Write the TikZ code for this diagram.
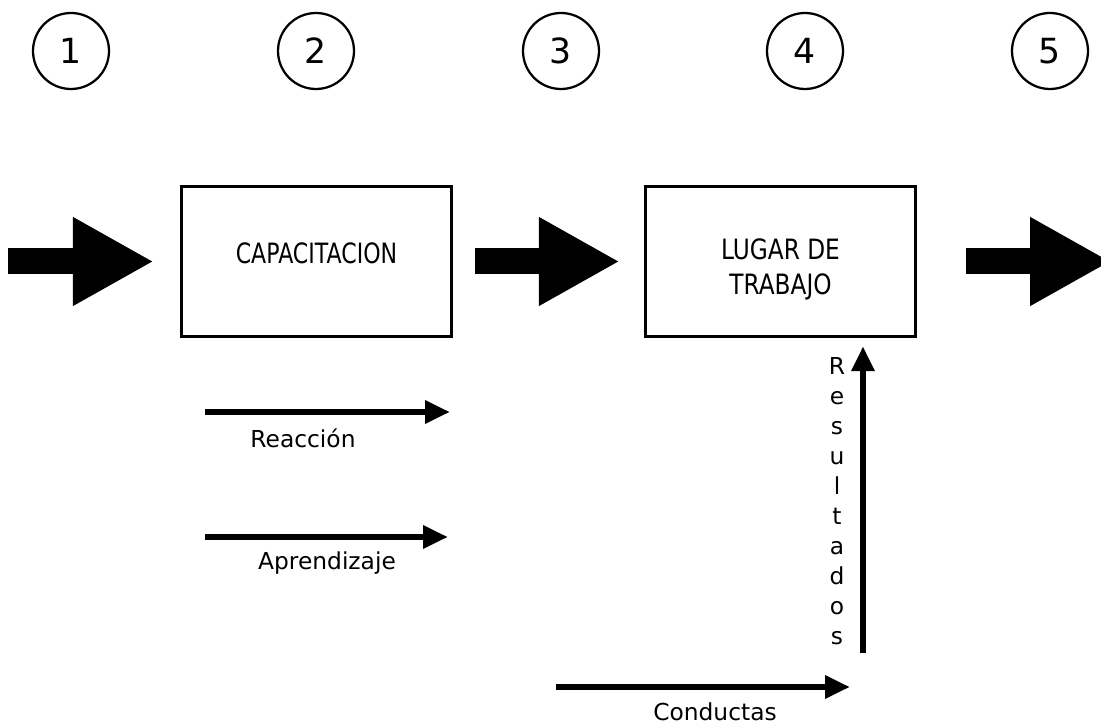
\documentclass[tikz,border=0pt]{standalone}
\usepackage{fontspec}
\setmainfont{DejaVu Sans}
\newfontfamily\boxfont[FakeStretch=0.83]{DejaVu Sans}
\usetikzlibrary{arrows.meta}

\begin{document}
\begin{tikzpicture}[x=0.75pt,y=-0.75pt]

	\tikzset{num/.style={draw, circle, line width=1.7pt, minimum size=57pt, inner sep=0pt, font=\fontsize{26}{26}\selectfont}}
	\tikzset{caja/.style={draw, line width=2.1pt, minimum width=203pt, minimum height=113pt}}
	\tikzset{cajatexto/.style={align=center, font=\boxfont\fontsize{21}{26}\selectfont}}
	\tikzset{big arrow/.style={line width=19.5pt, -{Triangle[length=60.75pt,width=62.25pt]}}}
	\tikzset{thin arrow/.style={line width=5.2pt, -{Triangle[length=18.75pt,width=16.5pt]}}}
	\tikzset{etiqueta/.style={font=\fontsize{17.5}{22.5}\selectfont}}

	\useasboundingbox (0,0) rectangle (1101,727);

	\node[num] (n1) at (71,51) {1};
	\node[num] (n2) at (316,51) {2};
	\node[num] (n3) at (561,51) {3};
	\node[num] (n4) at (805,51) {4};
	\node[num] (n5) at (1050,51) {5};

	\node[caja] (cap) at (316.5,261.5) {};
	\node[cajatexto] (captxt) at ([yshift=6.5pt]cap.center) {\scalebox{0.95}[1]{CAPACITACION}};
	\node[caja] (lugar) at (780.5,261.5) {};
	\node[cajatexto] (lugartxt) at ([yshift=-6pt]lugar.center) {LUGAR DE\\TRABAJO};

	\coordinate (entrada) at (8,261.5);
	\coordinate (salida) at (1111,261.5);
	\draw[big arrow, shorten >=19.5pt] (entrada) -- (cap);
	\draw[big arrow, shorten <=16.5pt, shorten >=18pt] (cap) -- (lugar);
	\draw[big arrow, shorten <=36.75pt] (lugar) -- (salida);

	\coordinate (r1) at (205,412);
	\coordinate (r2) at (450,412);
	\draw[thin arrow] (r1) -- (r2);
	\node[etiqueta] (reac) at (303,438) {Reacción};

	\coordinate (a1) at (205,537);
	\coordinate (a2) at (448,537);
	\draw[thin arrow] (a1) -- (a2);
	\node[etiqueta] (apr) at (327,563) {Aprendizaje};

	\coordinate (c1) at (556,687);
	\coordinate (c2) at (850,687);
	\draw[thin arrow] (c1) -- (c2);
	\node[etiqueta] (cond) at (715,712) {Conductas};

	\coordinate (res0) at (863,653);
	\draw[thin arrow, shorten >=6pt] (res0) -- (lugar.south -| res0);
	\node[etiqueta, align=center] (res) at (837,501) {R\\e\\s\\u\\l\\t\\a\\d\\o\\s};

\end{tikzpicture}
\end{document}
